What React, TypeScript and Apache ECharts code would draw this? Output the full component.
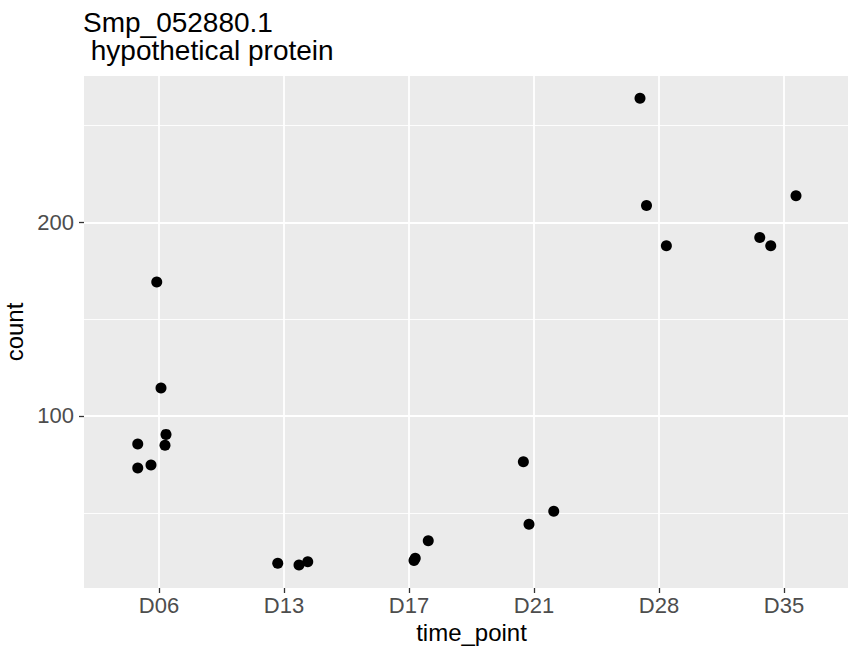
import React, { useEffect, useRef } from "react";
import * as echarts from "echarts";

const categories = ["D06", "D13", "D17", "D21", "D28", "D35"];
const groupIndex = [0, 0, 0, 0, 0, 0, 0, 1, 1, 1, 2, 2, 2, 3, 3, 3, 4, 4, 4, 5, 5, 5];
const jitter = [
  -0.018, 0.016, -0.17, 0.056, 0.048, -0.17, -0.064,
  -0.05, 0.12, 0.19,
  0.04, 0.05, 0.154,
  -0.085, -0.04, 0.158,
  -0.152, -0.1, 0.059,
  -0.194, -0.106, 0.096,
];
const counts = [
  169.2, 114.4, 85.5, 90.5, 84.9, 73.2, 74.7,
  24.0, 23.1, 24.8,
  25.4, 26.6, 35.6,
  76.4, 44.1, 50.8,
  264.0, 208.6, 187.9,
  192.1, 187.9, 213.7,
];
const yMajorTicks = [100, 200];
const yMinorTicks = [50, 150, 250];
const xTicks = categories.map((_, i) => i + 1);

const FONT = "'Liberation Sans', Arial, Helvetica, sans-serif";

export default function App() {
  const ref = useRef<HTMLDivElement>(null);
  useEffect(() => {
    if (!ref.current) return;
    const chart = echarts.init(ref.current, null, { renderer: "svg" });
    const data = groupIndex.map((g, i) => [g + 1 + jitter[i], counts[i]]);
    const yMin = 11.2;
    const yMax = 275.5;
    chart.setOption({
      animation: false,
      backgroundColor: "#ffffff",
      title: {
        text: "Smp_052880.1",
        subtext: " hypothetical protein",
        left: 83,
        top: 10,
        padding: 0,
        itemGap: 0,
        textStyle: {
          fontFamily: FONT,
          fontSize: 28,
          lineHeight: 25.6,
          fontWeight: "normal",
          color: "#000000",
        },
        subtextStyle: {
          fontFamily: FONT,
          fontSize: 28,
          lineHeight: 25.6,
          fontWeight: "normal",
          color: "#000000",
        },
      },
      grid: {
        left: 84,
        top: 76,
        bottom: 58,
        right: -11,
        show: true,
        backgroundColor: "#EBEBEB",
        borderWidth: 0,
        containLabel: false,
        outerBoundsMode: "none",
      },
      xAxis: {
        type: "value",
        min: 0.4,
        max: 6.6,
        name: "time_point",
        nameLocation: "middle",
        nameGap: 31,
        nameTextStyle: { fontFamily: FONT, fontSize: 24, color: "#000000" },
        axisLine: { show: false },
        axisTick: {
          show: true,
          length: 5,
          customValues: xTicks,
          lineStyle: { color: "#333333", width: 1.3 },
        },
        axisLabel: {
          customValues: xTicks,
          margin: 6,
          fontFamily: FONT,
          fontSize: 22,
          color: "#4D4D4D",
          formatter: (v: number) => categories[Math.round(v) - 1] ?? "",
        },
        splitLine: { show: true, lineStyle: { color: "#ffffff", width: 1.8 } },
      },
      yAxis: [
        {
          type: "value",
          min: yMin,
          max: yMax,
          name: "count",
          nameLocation: "middle",
          nameGap: 52,
          nameTextStyle: { fontFamily: FONT, fontSize: 24, color: "#000000" },
          axisLine: { show: false },
          axisTick: {
            show: true,
            length: 5,
            customValues: yMajorTicks,
            lineStyle: { color: "#333333", width: 1.3 },
          },
          axisLabel: {
            customValues: yMajorTicks,
            margin: 10,
            fontFamily: FONT,
            fontSize: 22,
            color: "#4D4D4D",
          },
          splitLine: { show: true, lineStyle: { color: "#ffffff", width: 1.8 } },
        },
        {
          type: "value",
          min: yMin,
          max: yMax,
          position: "left",
          axisLine: { show: false },
          axisTick: { show: false, customValues: yMinorTicks },
          axisLabel: { show: false, customValues: yMinorTicks },
          splitLine: { show: true, lineStyle: { color: "#ffffff", width: 0.9 } },
        },
      ],
      series: [
        {
          type: "scatter",
          xAxisIndex: 0,
          yAxisIndex: 0,
          data,
          symbol: "circle",
          symbolSize: 11,
          itemStyle: { color: "#000000", opacity: 1 },
          silent: true,
        },
      ],
    });
    return () => chart.dispose();
  }, []);
  return (
    <div
      ref={ref}
      style={{ position: "fixed", left: 0, top: 0, width: 848, height: 646 }}
    />
  );
}
